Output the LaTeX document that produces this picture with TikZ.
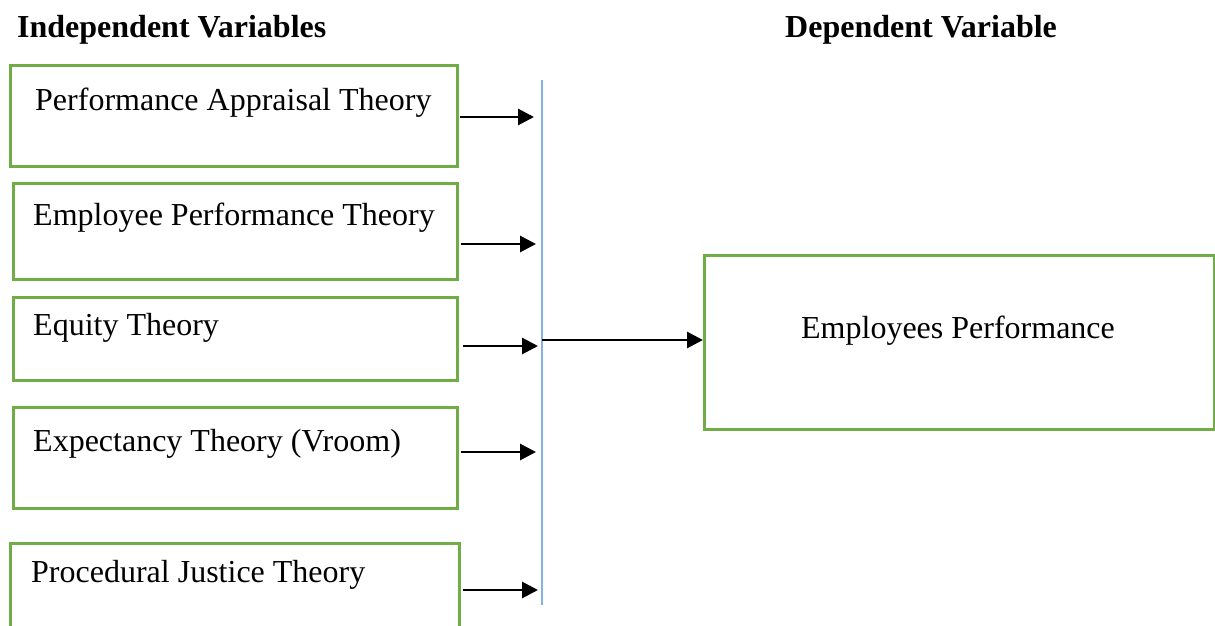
\documentclass[tikz,border=0pt]{standalone}
\usepackage{fontspec}
\setmainfont{Liberation Serif}
\usetikzlibrary{arrows.meta}
\definecolor{boxgreen}{RGB}{112,173,71}
\definecolor{lineblue}{RGB}{132,178,226}
\begin{document}
\begin{tikzpicture}[x=1pt,y=-1pt,
  box/.style={draw=boxgreen,line width=2.7pt,rectangle,anchor=north west,inner sep=0pt},
  lbl/.style={anchor=base west,inner sep=0pt,font=\fontsize{32}{36}\selectfont},
  head/.style={anchor=base west,inner sep=0pt,font=\fontsize{32}{36}\selectfont\bfseries},
  arr/.style={line width=2.9pt,-{Triangle[length=16pt,width=16pt]}}]
\useasboundingbox (0,0) rectangle (1215,626);
% headings
\node[head] (h1) at (17,38) {Independent Variables};
\node[head] (h2) at (785,38) {Dependent Variable};
% boxes
\node[box,minimum width=447pt,minimum height=101pt] (b1) at (9,64) {};
\node[box,minimum width=444pt,minimum height=96pt] (b2) at (12,182) {};
\node[box,minimum width=444pt,minimum height=83pt] (b3) at (12,296) {};
\node[box,minimum width=444pt,minimum height=101pt] (b4) at (12,406) {};
\node[box,minimum width=449pt,minimum height=100pt] (b5) at (9,542) {};
\node[box,minimum width=510pt,minimum height=174pt] (b6) at (703,254) {};
% labels
\node[lbl] (t1) at (35,110) {Performance Appraisal Theory};
\node[lbl] (t2) at (33,225) {Employee Performance Theory};
\node[lbl] (t3) at (33,335) {Equity Theory};
\node[lbl] (t4) at (33,451) {Expectancy Theory (Vroom)};
\node[lbl] (t5) at (31,582) {Procedural Justice Theory};
\node[lbl,anchor=base] (t6) at (958,338) {Employees Performance};
% vertical line
\coordinate (vt) at (542,80);
\coordinate (vb) at (542,605);
\draw[lineblue,line width=1.5pt] (vt) -- (vb);
% arrow endpoints
\coordinate (a1) at (534,117);
\coordinate (a2) at (536,244);
\coordinate (a3) at (538,346);
\coordinate (a4) at (536,452);
\coordinate (a5) at (538,590);
\coordinate (m) at (542,340);
\draw[arr] ([xshift=1pt]b1.east |- a1) -- (a1);
\draw[arr] ([xshift=2pt]b2.east |- a2) -- (a2);
\draw[arr] ([xshift=4pt]b3.east |- a3) -- (a3);
\draw[arr] ([xshift=2pt]b4.east |- a4) -- (a4);
\draw[arr] ([xshift=2pt]b5.east |- a5) -- (a5);
\draw[arr] (m) -- (b6.west |- m);
\end{tikzpicture}
\end{document}
